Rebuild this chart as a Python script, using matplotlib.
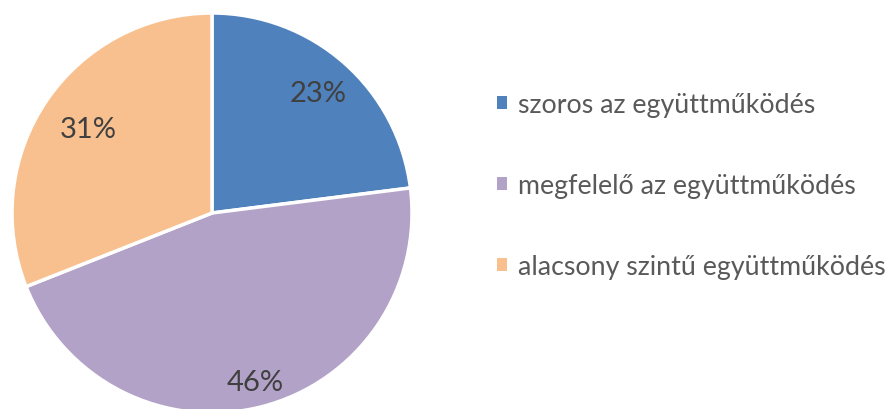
import matplotlib.pyplot as plt
from matplotlib.patches import Patch

categories = ["szoros az együttműködés", "megfelelő az együttműködés",
              "alacsony szintű együttműködés"]
shares = [23, 46, 31]
colors = ["#4F81BD", "#B3A2C7", "#F9C08F"]
label_dist = [0.80, 0.87, 0.75]

plt.rcParams['font.family'] = ['Lato', 'DejaVu Sans']

fig = plt.figure(figsize=(8.92, 4.10), dpi=100)
# pie centre ~(212, 214) px from top-left, radius ~200 px
cx, cy, r = 212, 410 - 214, 200
ax = fig.add_axes([(cx - r) / 892, (cy - r) / 410, 2 * r / 892, 2 * r / 410])

wedges, texts, autotexts = ax.pie(
    shares, colors=colors, startangle=90, counterclock=False,
    autopct='%1.0f%%', pctdistance=1.0, radius=1,
    wedgeprops=dict(edgecolor='white', linewidth=2.5),
    textprops=dict(color='#404040', fontsize=21))
for t, d in zip(autotexts, label_dist):
    x, y = t.get_position()
    t.set_position((x * d, y * d))
ax.set_xlim(-1, 1)
ax.set_ylim(-1, 1)
ax.set_aspect('equal')
ax.axis('off')

handles = [Patch(facecolor=c, edgecolor='none') for c in colors]
fig.legend(handles, categories, loc='center left', bbox_to_anchor=(497 / 892, 0.545),
           frameon=False, fontsize=19.3, labelcolor='#595959',
           borderaxespad=0, borderpad=0,
           handlelength=0.38, handleheight=0.38, handletextpad=0.4, labelspacing=2.1)

fig.savefig("out.png", dpi=100)
